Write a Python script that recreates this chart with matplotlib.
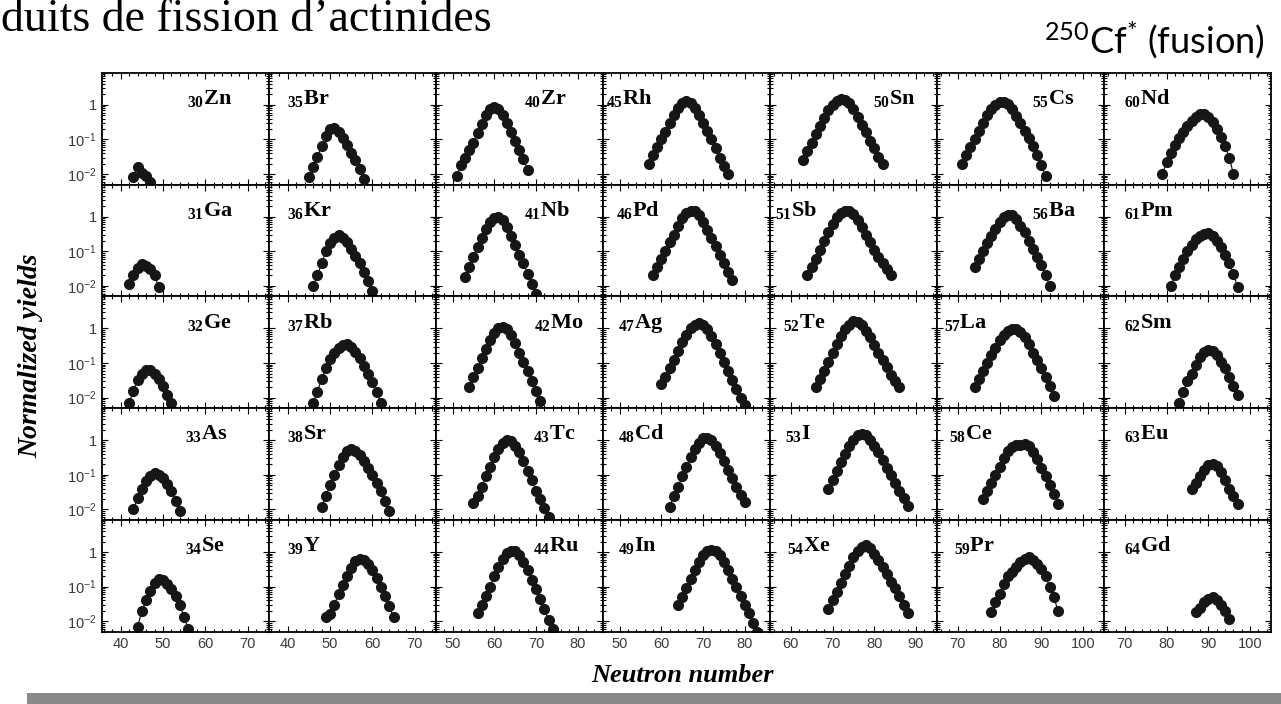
import matplotlib
matplotlib.use("Agg")
import matplotlib.pyplot as plt
import numpy as np
from matplotlib.patches import Rectangle
from matplotlib.ticker import FixedLocator, LogLocator, MultipleLocator, NullFormatter

# normalized yields, one point per neutron number
y_Zn = [0.008, 0.016, 0.011, 0.009, 0.006]
y_Ga = [0.011, 0.02, 0.033, 0.042, 0.038, 0.03, 0.02, 0.009]
y_Ge = [0.007, 0.016, 0.032, 0.05, 0.062, 0.065, 0.05, 0.035, 0.022, 0.012, 0.007]
y_As = [0.01, 0.022, 0.04, 0.065, 0.09, 0.11, 0.1, 0.08, 0.055, 0.035, 0.018, 0.009]
y_Se = [0.007, 0.02, 0.04, 0.075, 0.13, 0.17, 0.16, 0.12, 0.085, 0.055, 0.03, 0.013, 0.006]

y_Br = [0.008, 0.016, 0.032, 0.065, 0.13, 0.2, 0.22, 0.17, 0.11, 0.07, 0.042, 0.025, 0.014, 0.007]
y_Kr = [0.01, 0.02, 0.045, 0.1, 0.17, 0.25, 0.3, 0.25, 0.18, 0.12, 0.075, 0.045, 0.026, 0.014, 0.007]
y_Rb = [0.007, 0.015, 0.035, 0.07, 0.13, 0.2, 0.28, 0.34, 0.36, 0.3, 0.21, 0.14, 0.085, 0.05, 0.028, 0.015, 0.007]
y_Sr = [0.012, 0.025, 0.05, 0.1, 0.19, 0.32, 0.48, 0.55, 0.5, 0.37, 0.25, 0.16, 0.1, 0.06, 0.035, 0.018, 0.009]
y_Y = [0.013, 0.016, 0.03, 0.06, 0.11, 0.2, 0.35, 0.55, 0.65, 0.6, 0.45, 0.3, 0.18, 0.1, 0.055, 0.028, 0.013]

y_Zr = [0.009, 0.018, 0.03, 0.05, 0.08, 0.15, 0.28, 0.5, 0.75, 0.85, 0.75, 0.5, 0.3, 0.17, 0.09, 0.05, 0.027, 0.013]
y_Nb = [0.018, 0.035, 0.07, 0.13, 0.25, 0.45, 0.7, 0.9, 0.95, 0.8, 0.5, 0.28, 0.15, 0.08, 0.045, 0.022, 0.011, 0.006]
y_Mo = [0.02, 0.04, 0.07, 0.14, 0.25, 0.45, 0.75, 1.0, 1.1, 0.95, 0.65, 0.38, 0.2, 0.11, 0.06, 0.03, 0.016, 0.008]
y_Tc = [0.015, 0.025, 0.045, 0.09, 0.17, 0.32, 0.55, 0.85, 1.0, 0.95, 0.7, 0.45, 0.25, 0.13, 0.07, 0.035, 0.02, 0.011, 0.006]
y_Ru = [0.017, 0.03, 0.055, 0.1, 0.2, 0.38, 0.65, 0.95, 1.1, 1.05, 0.8, 0.5, 0.3, 0.16, 0.085, 0.045, 0.022, 0.011, 0.006]

y_Rh = [0.02, 0.035, 0.06, 0.1, 0.17, 0.3, 0.5, 0.8, 1.1, 1.3, 1.15, 0.8, 0.5, 0.3, 0.18, 0.1, 0.055, 0.03, 0.017, 0.01]
y_Pd = [0.02, 0.035, 0.06, 0.1, 0.18, 0.3, 0.55, 0.9, 1.3, 1.5, 1.45, 1.1, 0.7, 0.42, 0.25, 0.14, 0.08, 0.045, 0.026, 0.015]
y_Ag = [0.025, 0.04, 0.07, 0.12, 0.22, 0.4, 0.65, 1.0, 1.3, 1.45, 1.3, 0.95, 0.6, 0.35, 0.2, 0.11, 0.06, 0.033, 0.018, 0.01, 0.006]
y_Cd = [0.012, 0.025, 0.045, 0.09, 0.17, 0.32, 0.55, 0.85, 1.15, 1.2, 1.0, 0.7, 0.42, 0.25, 0.14, 0.08, 0.045, 0.026, 0.016]
y_In = [0.03, 0.05, 0.09, 0.17, 0.3, 0.5, 0.8, 1.05, 1.15, 1.05, 0.8, 0.5, 0.3, 0.17, 0.1, 0.055, 0.03, 0.017, 0.009, 0.005]

y_Sn = [0.025, 0.045, 0.08, 0.14, 0.25, 0.42, 0.7, 1.0, 1.3, 1.45, 1.4, 1.1, 0.75, 0.45, 0.27, 0.16, 0.09, 0.055, 0.032, 0.02]
y_Sb = [0.02, 0.035, 0.06, 0.11, 0.2, 0.35, 0.6, 0.95, 1.3, 1.5, 1.5, 1.2, 0.8, 0.5, 0.3, 0.18, 0.11, 0.07, 0.045, 0.03, 0.02]
y_Te = [0.02, 0.035, 0.06, 0.11, 0.2, 0.35, 0.6, 0.95, 1.3, 1.6, 1.55, 1.25, 0.85, 0.55, 0.34, 0.2, 0.12, 0.075, 0.045, 0.03, 0.02]
y_I = [0.04, 0.07, 0.13, 0.23, 0.4, 0.7, 1.05, 1.4, 1.55, 1.4, 1.05, 0.7, 0.45, 0.27, 0.16, 0.1, 0.06, 0.035, 0.021, 0.013]
y_Xe = [0.022, 0.04, 0.07, 0.13, 0.23, 0.4, 0.7, 1.05, 1.4, 1.6, 1.3, 0.9, 0.58, 0.37, 0.23, 0.14, 0.09, 0.055, 0.03, 0.017]

y_Cs = [0.019, 0.035, 0.06, 0.1, 0.18, 0.3, 0.5, 0.75, 1.0, 1.2, 1.25, 1.05, 0.75, 0.48, 0.3, 0.18, 0.11, 0.065, 0.035, 0.018, 0.009]
y_Ba = [0.035, 0.06, 0.1, 0.17, 0.28, 0.45, 0.7, 0.95, 1.15, 1.1, 0.85, 0.55, 0.35, 0.2, 0.12, 0.07, 0.04, 0.02, 0.01]
y_La = [0.02, 0.035, 0.06, 0.1, 0.17, 0.28, 0.45, 0.65, 0.85, 0.95, 0.95, 0.8, 0.55, 0.35, 0.2, 0.12, 0.07, 0.04, 0.022, 0.011]
y_Ce = [0.02, 0.035, 0.06, 0.1, 0.17, 0.3, 0.5, 0.65, 0.72, 0.75, 0.8, 0.7, 0.45, 0.28, 0.16, 0.09, 0.05, 0.028, 0.014]
y_Pr = [0.018, 0.035, 0.06, 0.12, 0.2, 0.27, 0.38, 0.5, 0.65, 0.7, 0.6, 0.45, 0.32, 0.2, 0.1, 0.05, 0.02]

y_Nd = [0.01, 0.022, 0.04, 0.07, 0.11, 0.17, 0.25, 0.35, 0.45, 0.55, 0.55, 0.45, 0.32, 0.2, 0.12, 0.065, 0.03, 0.01]
y_Pm = [0.01, 0.02, 0.035, 0.06, 0.1, 0.15, 0.22, 0.28, 0.32, 0.33, 0.28, 0.2, 0.13, 0.08, 0.045, 0.022, 0.009]
y_Sm = [0.007, 0.015, 0.03, 0.05, 0.09, 0.15, 0.21, 0.24, 0.22, 0.17, 0.11, 0.07, 0.04, 0.022, 0.012]
y_Eu = [0.04, 0.06, 0.09, 0.14, 0.19, 0.21, 0.18, 0.12, 0.07, 0.04, 0.024, 0.014]
y_Gd = [0.018, 0.025, 0.035, 0.045, 0.05, 0.04, 0.03, 0.02, 0.012]

# panels are laid out column by column (Z = 30 ... 64)
symbols = ["Zn", "Ga", "Ge", "As", "Se", "Br", "Kr", "Rb", "Sr", "Y",
           "Zr", "Nb", "Mo", "Tc", "Ru", "Rh", "Pd", "Ag", "Cd", "In",
           "Sn", "Sb", "Te", "I", "Xe", "Cs", "Ba", "La", "Ce", "Pr",
           "Nd", "Pm", "Sm", "Eu", "Gd"]
z_numbers = list(range(30, 65))
first_n = [43, 42, 42, 43, 44, 45, 46, 46, 48, 49,
           51, 53, 54, 55, 56, 57, 58, 60, 62, 64,
           63, 64, 66, 69, 69, 71, 74, 74, 76, 78,
           79, 81, 83, 86, 87]
yields = [y_Zn, y_Ga, y_Ge, y_As, y_Se, y_Br, y_Kr, y_Rb, y_Sr, y_Y,
          y_Zr, y_Nb, y_Mo, y_Tc, y_Ru, y_Rh, y_Pd, y_Ag, y_Cd, y_In,
          y_Sn, y_Sb, y_Te, y_I, y_Xe, y_Cs, y_Ba, y_La, y_Ce, y_Pr,
          y_Nd, y_Pm, y_Sm, y_Eu, y_Gd]

col_xlim = [(35.5, 75), (35.5, 75), (46, 86), (46, 86), (55, 95), (65, 105), (65, 105)]
ytick_vals = [0.01, 0.1, 1]
ytick_text = [r"$\mathregular{10^{-2}}$", r"$\mathregular{10^{-1}}$", "1"]

# where the element label starts inside each panel (axes fraction)
label_x = [0.51, 0.51, 0.51, 0.50, 0.50,
           0.11, 0.11, 0.11, 0.11, 0.11,
           0.53, 0.53, 0.59, 0.58, 0.58,
           0.02, 0.08, 0.09, 0.09, 0.09,
           0.62, 0.03, 0.08, 0.09, 0.10,
           0.57, 0.57, 0.04, 0.07, 0.10,
           0.12, 0.12, 0.12, 0.12, 0.12]

serif = "Liberation Serif"
sans = "Liberation Sans"

fig = plt.figure(figsize=(12.81, 7.04), dpi=100)
gs = fig.add_gridspec(5, 7, left=0.0794, right=0.9922, top=0.8967, bottom=0.1027,
                      hspace=0, wspace=0)

for i, sym in enumerate(symbols):
    col, row = divmod(i, 5)
    ax = fig.add_subplot(gs[row, col])
    n = np.arange(first_n[i], first_n[i] + len(yields[i]))
    ax.plot(n, yields[i], "-o", color="#161616", ms=7, lw=0.9)
    ax.set_yscale("log")
    ax.set_ylim(0.005, 8.5)
    ax.set_xlim(*col_xlim[col])

    ax.xaxis.set_major_locator(MultipleLocator(10))
    ax.xaxis.set_minor_locator(MultipleLocator(2))
    ax.yaxis.set_major_locator(FixedLocator(ytick_vals))
    ax.yaxis.set_minor_locator(LogLocator(subs=np.arange(2, 10)))
    ax.yaxis.set_minor_formatter(NullFormatter())
    ax.tick_params(which="both", direction="in", top=True, right=True,
                   labelsize=10.5, labelcolor="#3a3a3a", width=0.8)
    ax.tick_params(which="major", length=4.5)
    ax.tick_params(which="minor", length=2.2)

    if col == 0:
        ax.set_yticklabels(ytick_text, family=sans)
    else:
        ax.tick_params(labelleft=False)
    if row == 4:
        for t in ax.get_xticklabels():
            t.set_family(sans)
    else:
        ax.tick_params(labelbottom=False)

    for sp in ax.spines.values():
        sp.set_linewidth(1.3)

    ax.text(label_x[i], 0.72, r"$\mathregular{_{%d}}$%s" % (z_numbers[i], sym),
            transform=ax.transAxes, ha="left", va="baseline",
            fontsize=16, fontweight="bold", family=serif)

fig.text(0.024, 0.495, "Normalized yields", rotation=90, ha="center", va="center",
         fontsize=20, fontweight="bold", style="italic", family=serif)
fig.text(0.533, 0.040, "Neutron number", ha="center", va="center",
         fontsize=19, fontweight="bold", style="italic", family=serif)

# the slide title is cut at the left edge of the reference image
fig.text(1 / 1281, 1 - 31 / 704, "duits de fission d\u2019actinides",
         ha="left", va="baseline", fontsize=33, family=serif)
fig.text(1265 / 1281, 1 - 54 / 704, r"$\mathregular{^{250}Cf^{*}}$ (fusion)",
         ha="right", va="baseline", fontsize=26, family="Lato")

fig.add_artist(Rectangle((27 / 1281, 0), 1 - 27 / 1281, 11 / 704,
                         transform=fig.transFigure, color="#8a8a8a", lw=0))

fig.savefig("out.png", dpi=100)
